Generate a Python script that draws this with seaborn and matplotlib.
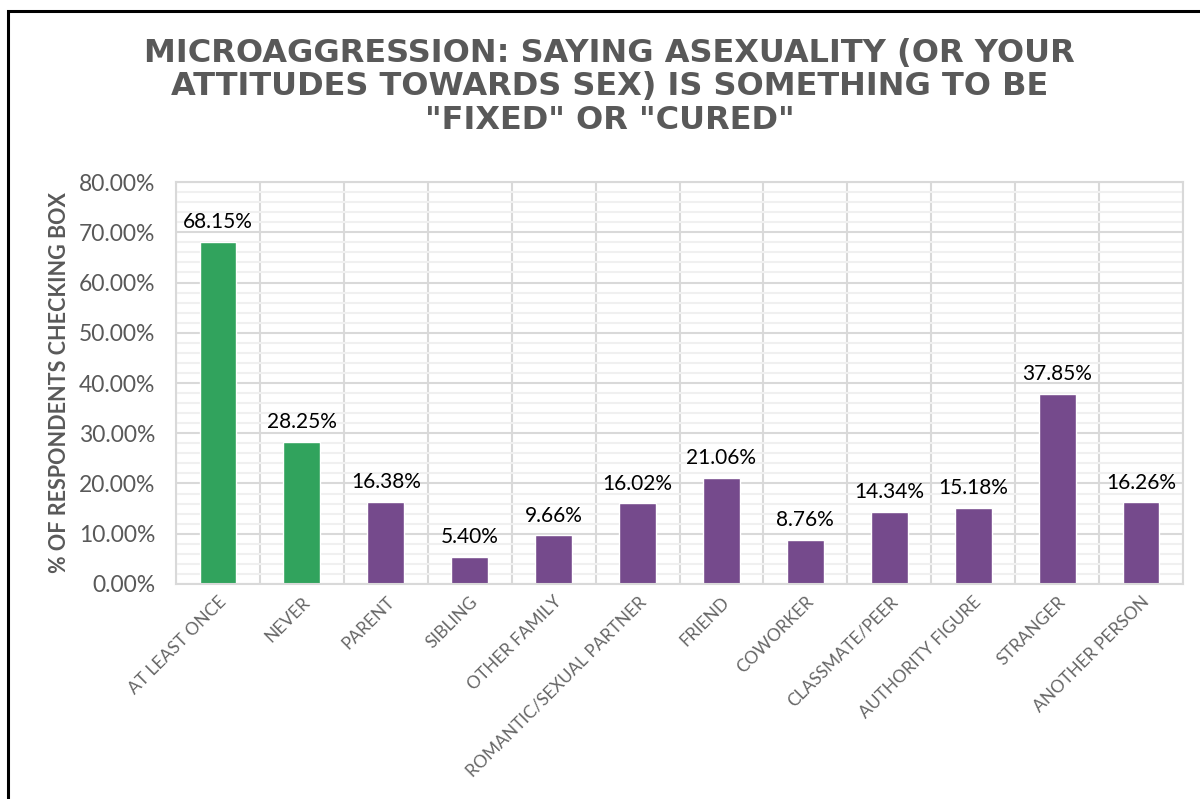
import numpy as np
import pandas as pd
import matplotlib
matplotlib.use("Agg")
import matplotlib.pyplot as plt
from matplotlib.patches import Rectangle
from matplotlib.ticker import MultipleLocator, FixedLocator, FuncFormatter
import seaborn as sns

categories = ["AT LEAST ONCE", "NEVER", "PARENT", "SIBLING", "OTHER FAMILY",
              "ROMANTIC/SEXUAL PARTNER", "FRIEND", "COWORKER", "CLASSMATE/PEER",
              "AUTHORITY FIGURE", "STRANGER", "ANOTHER PERSON"]
values = [68.15, 28.25, 16.38, 5.40, 9.66, 16.02, 21.06, 8.76, 14.34, 15.18, 37.85, 16.26]
groups = ["overall", "overall"] + ["source"] * 10
group_colors = {"overall": "#31A35D", "source": "#754A8C"}

title = 'MICROAGGRESSION: SAYING ASEXUALITY (OR YOUR\nATTITUDES TOWARDS SEX) IS SOMETHING TO BE\n"FIXED" OR "CURED"'
ylabel = "% OF RESPONDENTS CHECKING BOX"

df = pd.DataFrame({"cat": categories, "val": values, "grp": groups})

sns.set_style("white")
plt.rcParams["font.family"] = ["Lato", "DejaVu Sans"]

fig = plt.figure(figsize=(12, 7.99), dpi=100)
ax = fig.add_axes([0.1467, 0.2691, 0.8391, 0.5031])

sns.barplot(data=df, x="cat", y="val", hue="grp", palette=group_colors,
            width=0.44, dodge=False, legend=False, saturation=1, ax=ax)

ax.set_xlim(-0.5, len(categories) - 0.5)
ax.set_ylim(0, 80)
ax.set_axisbelow(True)

# grid: major every 10%, minor every 2%, vertical lines between categories
ax.yaxis.set_major_locator(MultipleLocator(10))
ax.yaxis.set_minor_locator(MultipleLocator(2))
ax.xaxis.set_minor_locator(FixedLocator(np.arange(-0.5, len(categories), 1)))
ax.grid(which="major", axis="y", color="#D9D9D9", linewidth=1.5)
ax.grid(which="minor", axis="y", color="#F0F0F0", linewidth=1.5)
ax.grid(which="minor", axis="x", color="#D9D9D9", linewidth=1.5)
ax.yaxis.set_major_formatter(FuncFormatter(lambda v, p: f"{v:.2f}%"))

for s in ax.spines.values():
    s.set_color("#D9D9D9")
    s.set_linewidth(1.5)

ax.tick_params(axis="y", which="major", length=6, width=1.5, color="#D9D9D9",
               pad=9, labelsize=16.5, labelcolor="#595959")
ax.tick_params(axis="y", which="minor", length=0)
ax.tick_params(axis="x", which="both", length=0, pad=7)
ax.set_xticks(range(len(categories)))
ax.set_xticklabels(categories, rotation=45, ha="right", rotation_mode="anchor",
                   fontsize=12.5, color="#666666")

ax.set_xlabel("")
ax.set_ylabel(ylabel, fontsize=15.5, fontweight="bold", color="#595959", labelpad=6)

for c in ax.containers:
    ax.bar_label(c, fmt="%.2f%%", padding=7, fontsize=15, color="black")

fig.text(0.508, 0.953, title, ha="center", va="top", fontsize=23,
         fontweight="bold", color="#595959", linespacing=1.12,
         family=["DejaVu Sans"])

fig.patches.append(Rectangle((0.0067, -0.1), 1.2, 0.9862 + 0.1, transform=fig.transFigure,
                             fill=False, edgecolor="black", linewidth=2.2))

fig.savefig("out.png", dpi=100)
